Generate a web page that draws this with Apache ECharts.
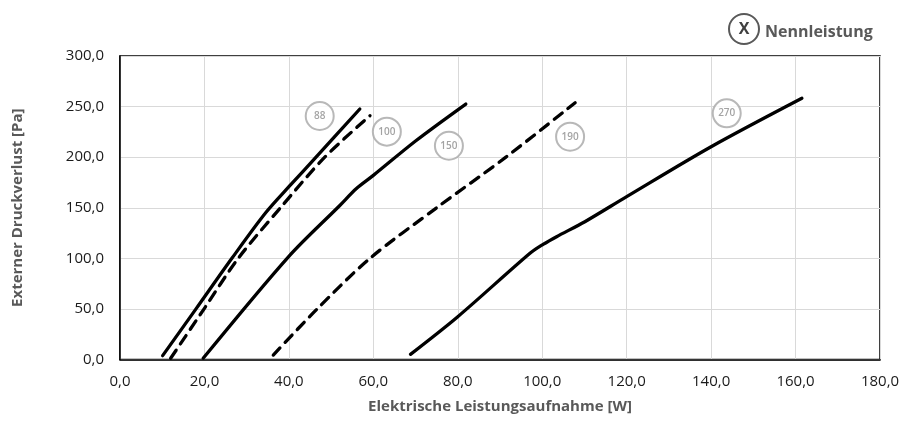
<!DOCTYPE html>
<html>
<head>
<meta charset="utf-8">
<script src="https://cdn.jsdelivr.net/npm/echarts@6/dist/echarts.min.js"></script>
<style>
  html, body { margin: 0; padding: 0; background: #fff; }
</style>
</head>
<body>
<div id="chart" style="width: 914px;height:434px;"></div>
<script type="text/javascript">
    // Kennlinien: [Leistung W, Druckverlust Pa]
    let curve88 = [[10.1, 3.8], [18, 50], [26.5, 100], [34.5, 145], [40.5, 173], [46, 198], [56.8, 247.6]];
    let curve100 = [[12.0, 1.2], [20, 50.6], [28, 100], [38, 150], [48.5, 200], [59.2, 241]];
    let curve150 = [[19.7, 1.2], [40, 102], [52, 152], [56, 169], [60, 182], [70, 216], [81.9, 252.5]];
    let curve190 = [[36.3, 4.4], [46.7, 50], [59.2, 100], [75.0, 150], [91.4, 200], [107.8, 253.8]];
    let curve270 = [[68.8, 5.1], [80, 42.3], [97.1, 105], [100.3, 114], [103.4, 121.4], [110.1, 136.2], [120, 161], [140, 210.3], [161.5, 258.2]];

    // Kreismarken mit Nennleistung
    let markNames = ['88', '100', '150', '190', '270'];
    let markPos = [[47.3, 240.7], [63.2, 225.2], [77.9, 211.3], [106.6, 220.2], [143.7, 243.3]];

    let xTicks = [0, 20, 40, 60, 80, 100, 120, 140, 160, 180];
    let yTicks = [0, 50, 100, 150, 200, 250, 300];

    function fmt(v) {
        return v.toFixed(1).replace('.', ',');
    }

    function lineSeries(name, data, dashed) {
        return {
            name: name,
            type: 'line',
            data: data,
            smooth: 0.3,
            showSymbol: false,
            symbol: 'none',
            lineStyle: {
                color: '#000',
                width: 3.3,
                type: dashed ? [10, 7.5] : 'solid',
                cap: 'round',
                join: 'round'
            },
            z: 3
        };
    }

    let myChart = echarts.init(document.getElementById('chart'));
    let option = {
        animation: false,
        textStyle: { fontFamily: 'Open Sans' },
        grid: {
            left: 120, right: 34, top: 56, bottom: 74.5,
            show: true,
            borderColor: '#000',
            borderWidth: 1.5,
            backgroundColor: 'transparent'
        },
        xAxis: {
            type: 'value',
            min: xTicks[0],
            max: xTicks[xTicks.length - 1],
            interval: 20,
            name: 'Elektrische Leistungsaufnahme [W]',
            nameLocation: 'middle',
            nameGap: 40,
            nameTextStyle: { fontFamily: 'Open Sans', fontWeight: 'bold', fontSize: 15, color: '#595959' },
            axisLine: { show: true, lineStyle: { color: '#000', width: 1.5 } },
            axisTick: { show: false },
            axisLabel: { formatter: fmt, fontSize: 15, color: '#1a1a1a', margin: 15 },
            splitLine: { show: true, lineStyle: { color: '#d9d9d9', width: 1 } }
        },
        yAxis: {
            type: 'value',
            min: yTicks[0],
            max: yTicks[yTicks.length - 1],
            interval: 50,
            name: 'Externer Druckverlust [Pa]',
            nameLocation: 'middle',
            nameGap: 95,
            nameTextStyle: { fontFamily: 'Open Sans', fontWeight: 'bold', fontSize: 15, color: '#595959' },
            axisLine: { show: true, lineStyle: { color: '#000', width: 1.5 } },
            axisTick: { show: false },
            axisLabel: { formatter: fmt, fontSize: 15, color: '#1a1a1a', margin: 16 },
            splitLine: { show: true, lineStyle: { color: '#d9d9d9', width: 1 } }
        },
        series: [
            lineSeries('88', curve88, false),
            lineSeries('100', curve100, true),
            lineSeries('150', curve150, false),
            lineSeries('190', curve190, true),
            lineSeries('270', curve270, false),
            {
                name: 'Nennleistung',
                type: 'scatter',
                data: markPos.map(function (p, i) { return { value: p, name: markNames[i] }; }),
                symbol: 'circle',
                symbolSize: 28,
                itemStyle: { color: '#fff', borderColor: '#a6a6a6', borderWidth: 2 },
                label: {
                    show: true,
                    position: 'inside',
                    formatter: function (p) { return p.name; },
                    fontSize: 10,
                    fontWeight: 600,
                    color: '#8c8c8c'
                },
                z: 4
            }
        ],
        graphic: [
            {
                type: 'circle',
                shape: { cx: 744, cy: 29, r: 15 },
                style: { fill: '#fff', stroke: '#595959', lineWidth: 2 }
            },
            {
                type: 'text',
                x: 744, y: 29,
                style: {
                    text: 'X', fill: '#404040', font: 'bold 16px "Open Sans"',
                    align: 'center', verticalAlign: 'middle'
                }
            },
            {
                type: 'text',
                x: 765, y: 32,
                style: {
                    text: 'Nennleistung', fill: '#595959', font: 'bold 16px "Open Sans"',
                    align: 'left', verticalAlign: 'middle'
                }
            }
        ]
    };
    myChart.setOption(option);
</script>
</body>
</html>
